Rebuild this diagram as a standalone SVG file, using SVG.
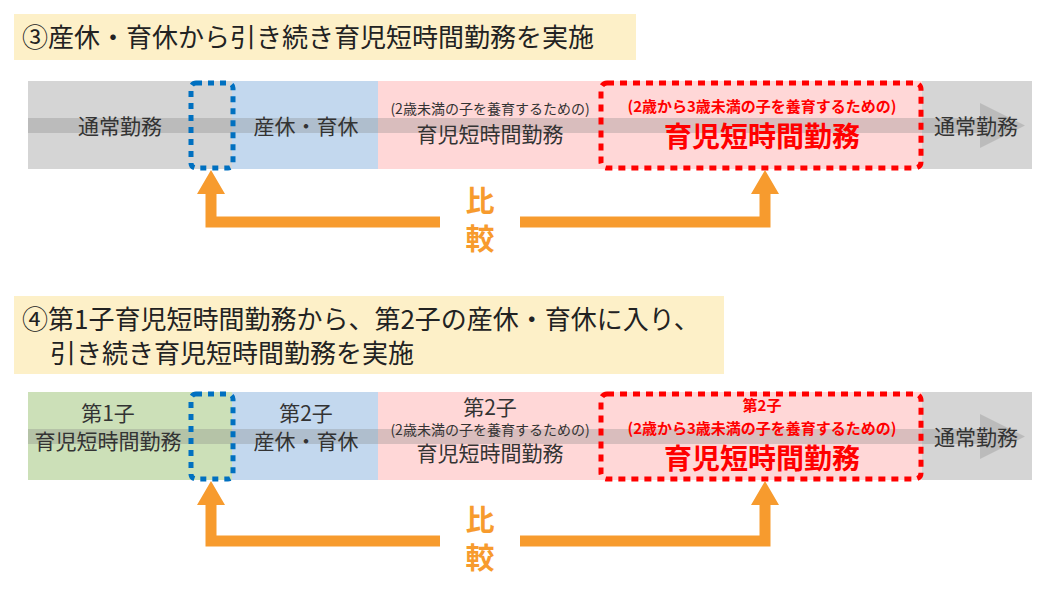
<svg xmlns="http://www.w3.org/2000/svg" width="1060" height="593" viewBox="0 0 1060 593">
<style>
text{font-family:"Noto Sans CJK JP","Noto Sans",sans-serif;fill:#333}
.t{font-size:26px;fill:#222}
.m{font-size:21px;text-anchor:middle}
.s{font-size:14px;text-anchor:middle}
.rs{font-size:15px;font-weight:bold;fill:#f00;text-anchor:middle}
.rb{font-size:28px;font-weight:bold;fill:#f00;text-anchor:middle}
.o{font-size:29px;font-weight:bold;fill:#f79b2e;text-anchor:middle}
.ar{fill:none;stroke:#f79b2e;stroke-width:11}
.ah{fill:#f79b2e}
.bd{fill:none;stroke:#0070c0;stroke-width:5;stroke-dasharray:6 6}
.rd{fill:none;stroke:#f00;stroke-width:5;stroke-dasharray:7 6}
</style>
<rect x="14" y="14" width="622" height="46" fill="#fdf0c8"/>
<text class="t" x="22" y="47">③産休・育休から引き続き育児短時間勤務を実施</text>
<rect x="14" y="296" width="710" height="78" fill="#fdf0c8"/>
<text class="t" x="22" y="329">④第1子育児短時間勤務から、第2子の産休・育休に入り、</text>
<text class="t" x="50" y="363">引き続き育児短時間勤務を実施</text>
<g id="bar1">
<rect x="28" y="81" width="1004" height="88" fill="#d5d5d5"/>
<rect x="232" y="81" width="146" height="88" fill="#c3d8ee"/>
<rect x="378" y="81" width="544" height="88" fill="#ffd7d7"/>
<path d="M28 118H980V103L1025 125.5L980 148V133H28Z" fill="#808080" opacity="0.3"/>
<rect x="191" y="83" width="42" height="85" rx="5" class="bd"/>
<rect x="601" y="83" width="320" height="85" rx="6" class="rd"/>
<text class="m" x="120" y="134">通常勤務</text>
<text class="m" x="306" y="134">産休・育休</text>
<text class="s" x="490" y="114">(2歳未満の子を養育するための)</text>
<text class="m" x="490" y="142">育児短時間勤務</text>
<text class="rs" x="762" y="112">(2歳から3歳未満の子を養育するための)</text>
<text class="rb" x="762" y="147">育児短時間勤務</text>
<text class="m" x="976" y="134">通常勤務</text>
</g>
<g id="bar2">
<rect x="28" y="392" width="1004" height="88" fill="#d5d5d5"/>
<rect x="28" y="392" width="204" height="88" fill="#cce0b8"/>
<rect x="232" y="392" width="146" height="88" fill="#c3d8ee"/>
<rect x="378" y="392" width="544" height="88" fill="#ffd7d7"/>
<path d="M28 429H980V414L1025 436.5L980 459V444H28Z" fill="#808080" opacity="0.3"/>
<rect x="191" y="394" width="42" height="85" rx="5" class="bd"/>
<rect x="601" y="394" width="320" height="85" rx="6" class="rd"/>
<text class="m" x="108" y="421">第1子</text>
<text class="m" x="108" y="449">育児短時間勤務</text>
<text class="m" x="306" y="421">第2子</text>
<text class="m" x="306" y="449">産休・育休</text>
<text class="m" x="490" y="415">第2子</text>
<text class="s" x="490" y="435">(2歳未満の子を養育するための)</text>
<text class="m" x="490" y="461">育児短時間勤務</text>
<text class="rs" x="762" y="411">第2子</text>
<text class="rs" x="762" y="434">(2歳から3歳未満の子を養育するための)</text>
<text class="rb" x="762" y="469">育児短時間勤務</text>
<text class="m" x="976" y="445">通常勤務</text>
</g>
<g id="connectors">
<path class="ar" d="M211 192V222H440M520 222H765V192"/>
<path class="ah" d="M197 194L211 170L225 194ZM751 194L765 170L779 194Z"/>
<path class="ar" d="M211 503V541H440M520 541H765V503"/>
<path class="ah" d="M197 505L211 481L225 505ZM751 505L765 481L779 505Z"/>
</g>
<text class="o" x="480" y="212">比</text>
<text class="o" x="480" y="250">較</text>
<text class="o" x="480" y="531">比</text>
<text class="o" x="480" y="569">較</text>
</svg>
